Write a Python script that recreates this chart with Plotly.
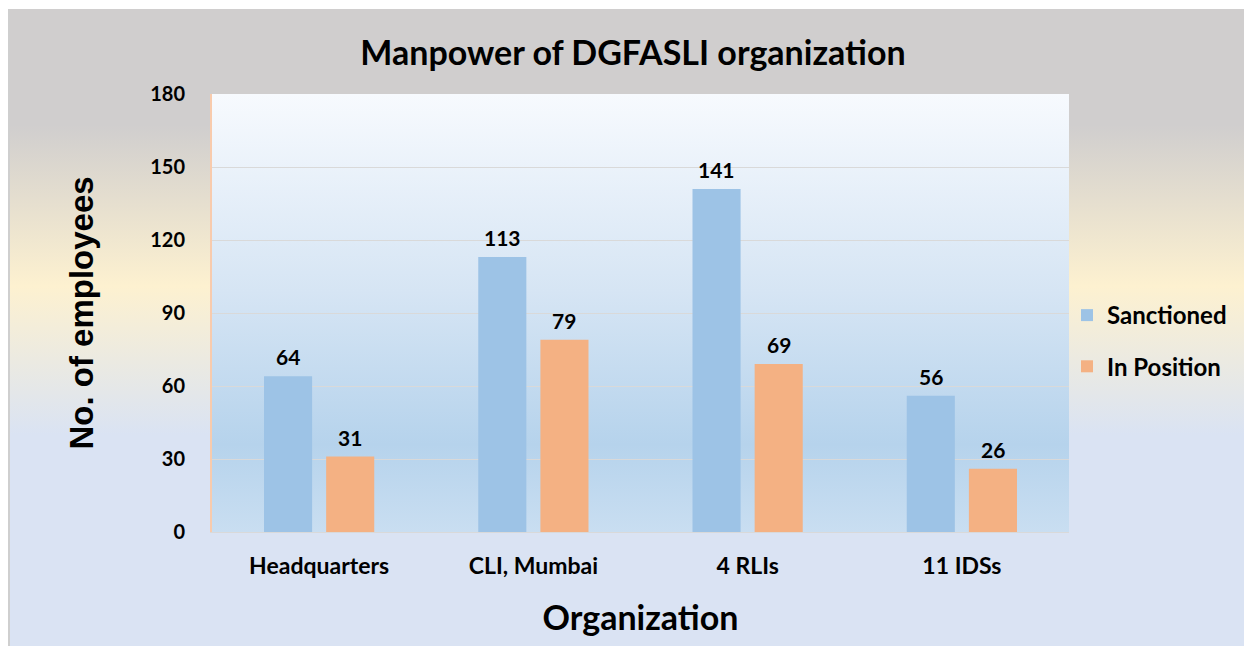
import base64
import plotly.graph_objects as go

categories = ["Headquarters", "CLI, Mumbai", "4 RLIs", "11 IDSs"]
sanctioned = [64, 113, 141, 56]
in_position = [31, 79, 69, 26]
y_ticks = [0, 30, 60, 90, 120, 150, 180]
series_names = ["Sanctioned", "In Position"]
series_colors = ["#9DC3E6", "#F4B183"]

W, H = 1252, 646
# figure coordinates (page is offset by 8px body margin)
L, R, T, B = 204, 1061, 86, 524
pw, ph = R - L, B - T
FONT = "Lato"


def svg_uri(svg):
    return "data:image/svg+xml;base64," + base64.b64encode(svg.encode()).decode()


outer_svg = """<svg xmlns='http://www.w3.org/2000/svg' width='1252' height='645' preserveAspectRatio='none'>
<defs><linearGradient id='g' x1='0' y1='0' x2='0' y2='1'>
<stop offset='0' stop-color='#D0CECE'/>
<stop offset='0.18' stop-color='#D0CECE'/>
<stop offset='0.43' stop-color='#FDF1D0'/>
<stop offset='0.66' stop-color='#DAE3F3'/>
<stop offset='1' stop-color='#DAE3F3'/>
</linearGradient></defs>
<rect width='1252' height='645' fill='url(#g)'/>
<rect x='0' y='0' width='2' height='645' fill='#CFCFCF'/>
</svg>"""

plot_svg = """<svg xmlns='http://www.w3.org/2000/svg' width='857' height='438' preserveAspectRatio='none'>
<defs><linearGradient id='p' x1='0' y1='0' x2='0' y2='1'>
<stop offset='0' stop-color='#F7FAFE'/>
<stop offset='0.45' stop-color='#D6E5F4'/>
<stop offset='0.8' stop-color='#B6D3EC'/>
<stop offset='1' stop-color='#C9DEF1'/>
</linearGradient></defs>
<rect width='857' height='438' fill='url(#p)'/>
</svg>"""

fig = go.Figure()
for name, vals, col in zip(series_names, [sanctioned, in_position], series_colors):
    fig.add_trace(go.Bar(
        x=categories, y=vals, name=f"<b>{name}</b>", marker=dict(color=col, line=dict(width=0)),
        legendgroup=name, hoverinfo="skip", showlegend=True,
    ))

# data labels
offsets = [-31, 31]
for vals, off in zip([sanctioned, in_position], offsets):
    for c, v in zip(categories, vals):
        fig.add_annotation(x=c, y=v, text=f"<b>{v}</b>", showarrow=False,
                           xshift=off, yanchor="bottom", yshift=5,
                           font=dict(size=21, color="#000000", family=FONT))

fig.add_layout_image(dict(
    source=svg_uri(outer_svg), xref="paper", yref="paper",
    x=-L / pw, y=1 + (T - 1) / ph, sizex=W / pw, sizey=(H - 1) / ph,
    xanchor="left", yanchor="top", sizing="stretch", layer="below"))
fig.add_layout_image(dict(
    source=svg_uri(plot_svg), xref="paper", yref="paper",
    x=0, y=1, sizex=1, sizey=1,
    xanchor="left", yanchor="top", sizing="stretch", layer="below"))

fig.update_layout(
    width=W, height=H,
    margin=dict(l=L, r=W - R, t=T, b=H - B, pad=0),
    paper_bgcolor="#FFFFFF", plot_bgcolor="rgba(0,0,0,0)",
    barmode="group", bargap=0.42, bargroupgap=0.226,
    title=dict(text="<b>Manpower of DGFASLI organization</b>", x=625 / W, xanchor="center",
               y=1 - 45 / H, yanchor="middle",
               font=dict(size=34, color="#000000", family=FONT)),
    font=dict(family=FONT, color="#000000"),
    legend=dict(x=(1059 - L) / pw, xanchor="left", y=(B - 333) / ph, yanchor="middle",
                bgcolor="rgba(0,0,0,0)", font=dict(size=24, color="#000000", family=FONT),
                tracegroupgap=17, traceorder="grouped", itemwidth=30),
)

fig.update_xaxes(
    showgrid=False, showline=True, linecolor="#D9D9D9", linewidth=1,
    tickfont=dict(size=23, family=FONT, color="#000000"),
    tickvals=categories, ticktext=[f"<b>{c}</b>" for c in categories],
    ticks="", ticklabelstandoff=13,
    title=dict(text="<b>Organization</b>", font=dict(size=34, family=FONT, color="#000000"),
               standoff=28),
)
fig.update_yaxes(
    range=[0, 180], tickvals=y_ticks, ticktext=[f"<b>{t}</b>" for t in y_ticks],
    showgrid=True, gridcolor="#D9D9D9", gridwidth=1, zeroline=False,
    showline=True, linecolor="#F8CBAD", linewidth=2, ticks="",
    tickfont=dict(size=20, family=FONT, color="#000000"), ticklabelstandoff=21,
    title=dict(text="<b>No. of employees</b>",
               font=dict(size=33, family="Liberation Sans", color="#000000"), standoff=47),
)

fig.write_html("out.html")
